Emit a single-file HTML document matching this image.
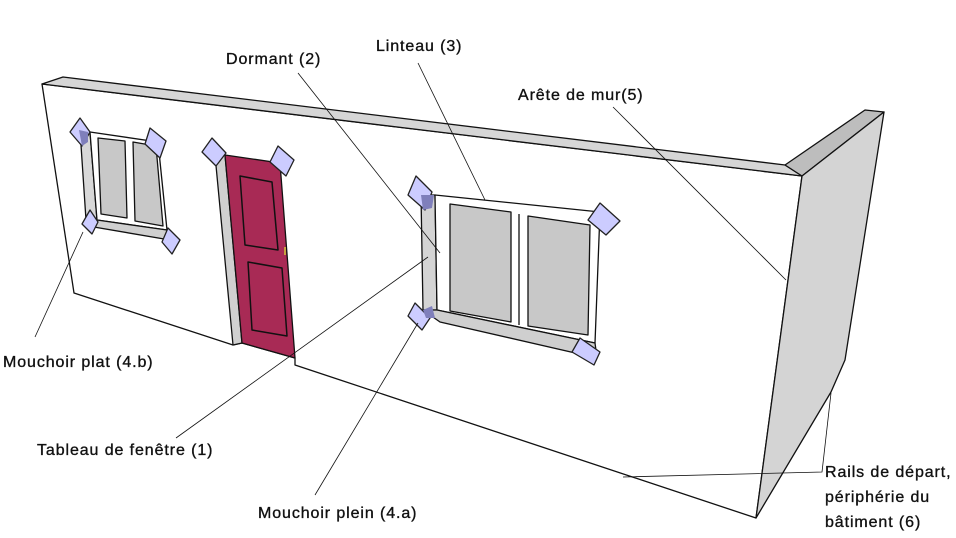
<!DOCTYPE html>
<html><head><meta charset="utf-8"><style>
html,body{margin:0;padding:0;background:#fff;}
svg{display:block}
text{font-family:"Liberation Sans",sans-serif;font-size:16px;letter-spacing:0.9px;fill:#111;stroke:#111;stroke-width:0.35}
</style></head><body>
<svg width="956" height="538" viewBox="0 0 956 538" xmlns="http://www.w3.org/2000/svg">
<g stroke="#111" stroke-width="1.3" stroke-linejoin="round">
<!-- front wall -->
<polygon points="42,84 802,176 756,518 295,365 295,358 242,343 233,345 74,293" fill="#fff"/>
<!-- cap -->
<polygon points="42,84 63,77 785,165 802,176" fill="#d6d6d6"/>
<polygon points="785,165 865,110 884,112 802,176" fill="#bdbdbd"/>
<!-- right wall -->
<polygon points="802,176 884,112 845,360 831,392 756,518" fill="#d4d4d4"/>

<!-- small window -->
<polygon points="80,130 90,132 97,220 86,220" fill="#d8d8d8"/>
<polygon points="90,132 158,142 167,230 97,220" fill="#fff"/>
<polygon points="98,138 125,141 127,218 101,214" fill="#c8c8c8"/>
<polygon points="133,142 156,146 163,226 135,221" fill="#c8c8c8"/>
<polygon points="86,220 97,220 167,230 170,240 88,226" fill="#d0d0d0"/>

<!-- door -->
<polygon points="215,155 225,155 242,343 233,345" fill="#d0d0d0"/>
<polygon points="225,155 280,163 295,358 242,343" fill="#a82a55"/>
<polygon points="240,176 272,182 278,250 245,245" fill="none" stroke-width="1.5"/>
<polygon points="248,262 282,268 287,336 252,330" fill="none" stroke-width="1.5"/>
<rect x="284" y="247" width="2" height="8" fill="#c8a040" stroke="none"/>

<!-- big window -->
<polygon points="421,195 435,195 437,310 423,310" fill="#d4d4d4"/>
<polygon points="435,195 600,212 595,343 437,310" fill="#fff"/>
<polygon points="450,204 511,212 511,322 450,311" fill="#c8c8c8"/>
<polygon points="528,216 590,225 588,335 528,326" fill="#c8c8c8"/>
<line x1="519" y1="214" x2="519" y2="325"/>
<polygon points="423,310 437,310 595,343 597,358 440,322" fill="#cfcfcf"/>

<!-- mouchoirs -->
<g fill="#ccccff" stroke="#222">
<polygon points="80,118 90,132 82,146 70,132"/>
<polygon points="150,128 166,141 160,158 145,144"/>
<polygon points="90,210 98,222 92,234 82,224"/>
<polygon points="168,228 180,240 172,254 162,242"/>
<polygon points="212,138 226,153 216,166 202,152"/>
<polygon points="278,146 294,160 286,176 270,162"/>
<polygon points="416,176 432,192 425,210 408,195"/>
<polygon points="600,203 620,221 606,235 588,220"/>
<polygon points="415,303 430,318 422,330 408,316"/>
<polygon points="580,338 600,352 594,365 572,352"/>
</g>
<g fill="#7f7fbb" stroke="none">
<polygon points="421,195 434,195 432,208 423,210"/>
<polygon points="423,310 432,306 435,318 426,318"/>
<polygon points="79,130 88,132 88,142 82,146"/>
</g>
</g>

<!-- leaders -->
<g stroke="#111" stroke-width="0.8" fill="none">
<line x1="298" y1="73" x2="440" y2="253"/>
<line x1="418" y1="63" x2="485" y2="200"/>
<line x1="613" y1="107" x2="786" y2="280"/>
<line x1="428" y1="257" x2="176" y2="438"/>
<line x1="418" y1="323" x2="315" y2="495"/>
<line x1="83" y1="232" x2="35" y2="337"/>
<polyline points="831,393 822,472 623,477"/>
</g>

<!-- labels -->
<text x="226" y="64">Dormant (2)</text>
<text x="376" y="51">Linteau (3)</text>
<text x="518" y="100">Arête de mur(5)</text>
<text x="3" y="367">Mouchoir plat (4.b)</text>
<text x="37" y="455">Tableau de fenêtre (1)</text>
<text x="258" y="518">Mouchoir plein (4.a)</text>
<text x="825" y="477">Rails de départ,</text>
<text x="825" y="502">périphérie du</text>
<text x="825" y="527">bâtiment (6)</text>
</svg>
</body></html>
